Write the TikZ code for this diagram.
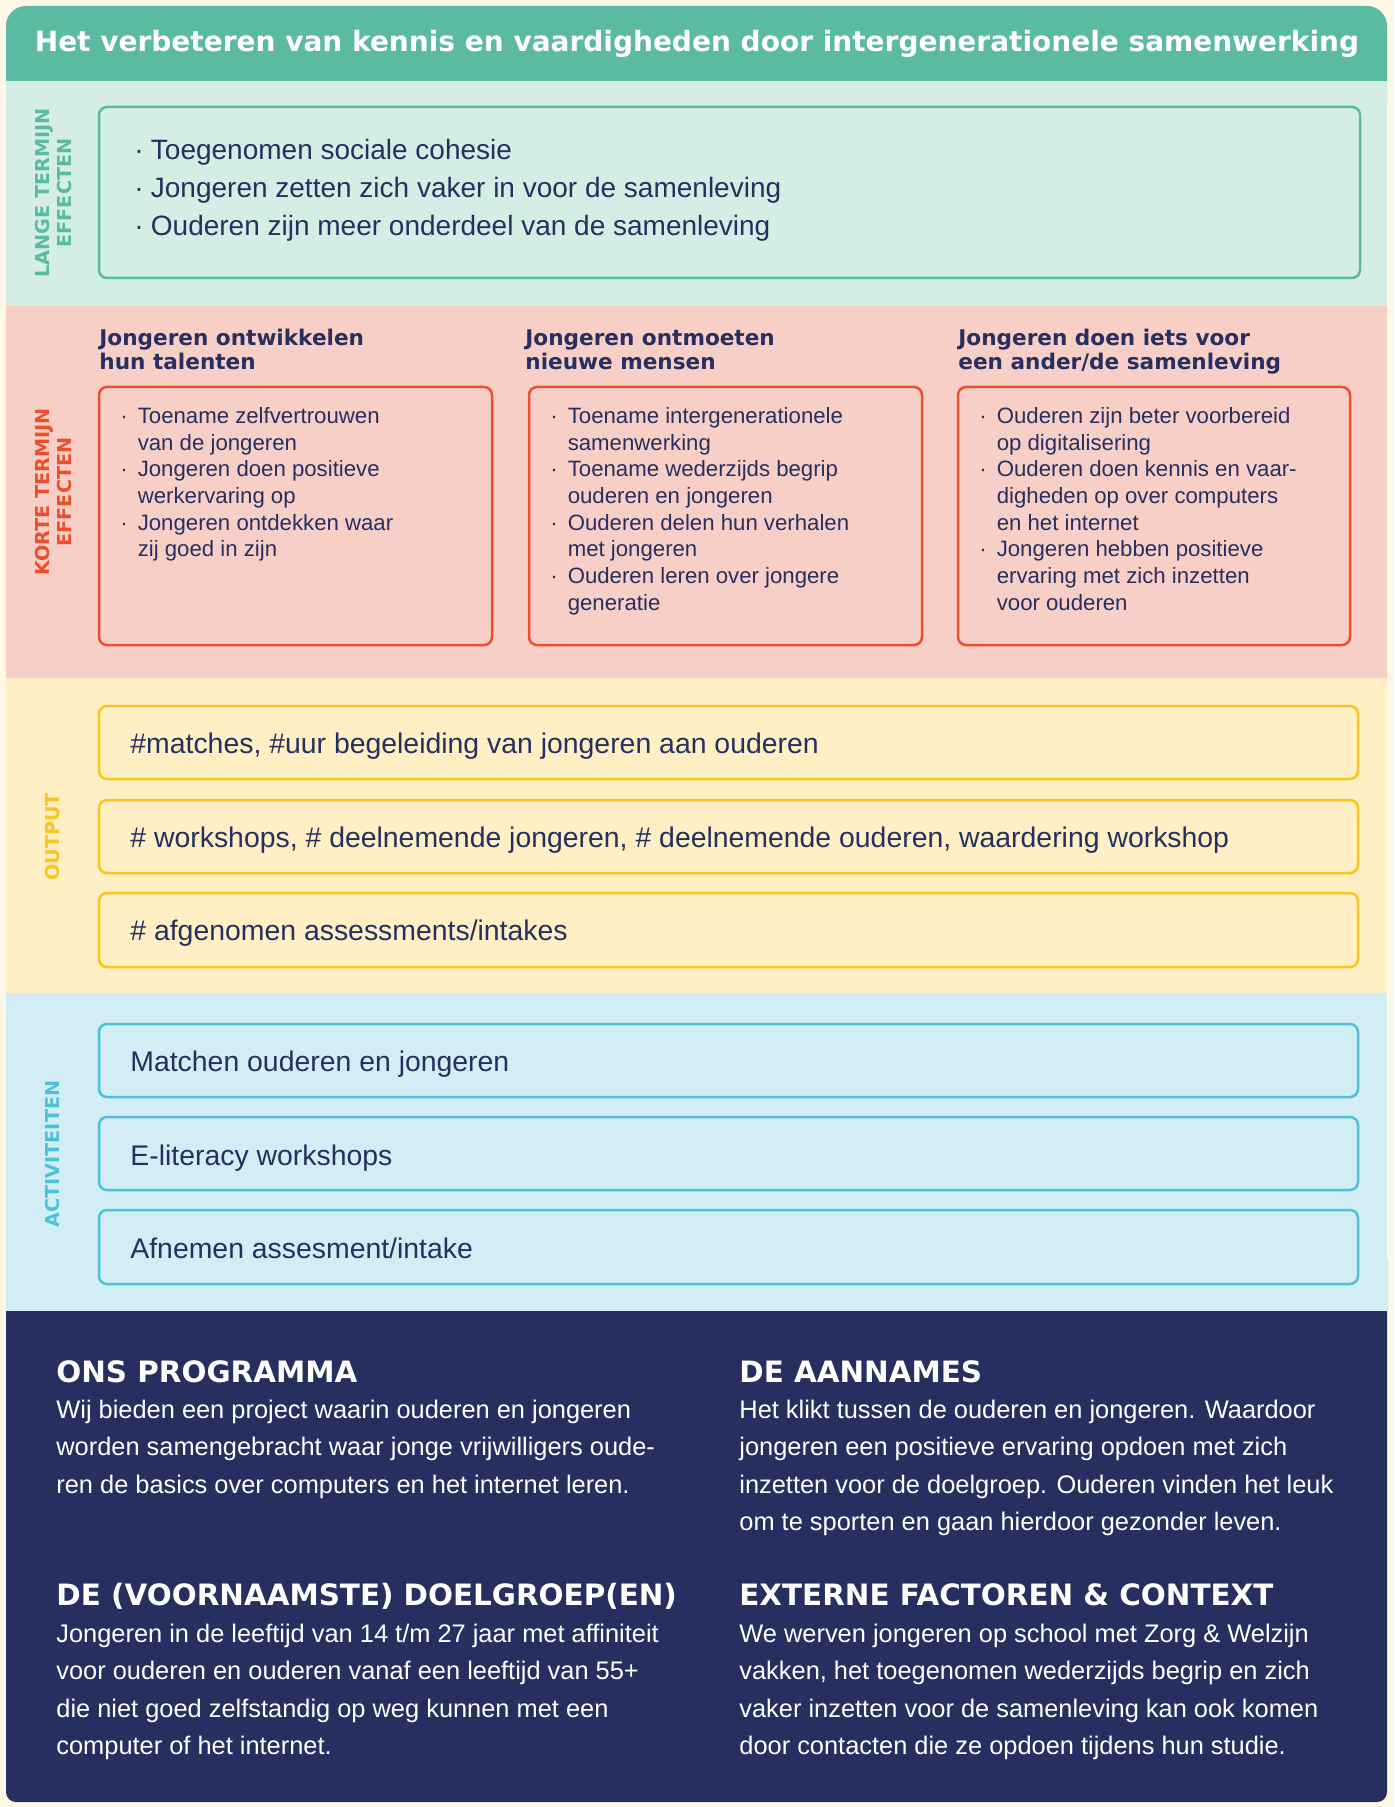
\documentclass[tikz,border=0pt]{standalone}
\usepackage{fontspec}
\setmainfont{Liberation Sans}
\newfontfamily\heavyfont{DejaVu Sans}
\definecolor{cream}{HTML}{FFF8E7}
\definecolor{langegreen}{HTML}{5BBAA2}
\definecolor{langebg}{HTML}{D4EEE6}
\definecolor{kortered}{HTML}{E9502B}
\definecolor{kortebg}{HTML}{F8CFC7}
\definecolor{outyellow}{HTML}{FBC41F}
\definecolor{outbg}{HTML}{FEF0C4}
\definecolor{actblue}{HTML}{4DC1DA}
\definecolor{actbg}{HTML}{D3EDF4}
\definecolor{navy}{HTML}{262F5F}
\definecolor{ink}{HTML}{272F60}

\begin{document}
\begin{tikzpicture}[x=0.5pt,y=-0.5pt,
    effbox/.style={line width=1.25pt,rounded corners=4pt},
    sidelabel/.style={rotate=90,align=center,inner sep=0pt,font=\heavyfont\bfseries\fontsize{9.6}{11}\selectfont},
    linetext/.style={anchor=base west,inner sep=0pt,text=ink,font=\fontsize{14.2}{17}\selectfont},
    listtext/.style={anchor=north west,inner sep=0pt,text=ink,font=\fontsize{11.1}{13.35}\selectfont},
    colhead/.style={anchor=north west,inner sep=0pt,text=ink,font=\heavyfont\bfseries\fontsize{10.8}{12}\selectfont},
    navyhead/.style={anchor=base west,inner sep=0pt,text=white,font=\heavyfont\bfseries\fontsize{14.7}{17}\selectfont},
    navytext/.style={anchor=north west,inner sep=0pt,text=white,font=\fontsize{12.7}{18.75}\selectfont}]
\fill[cream] (0,0) rectangle (1394,1807);
\useasboundingbox (0,0) rectangle (1394,1807);
% bands
\fill[langegreen,rounded corners=10pt] (6,6) rectangle (1387,120);
\fill[navy,rounded corners=5pt] (6,1250) rectangle (1387,1802);
\fill[langebg] (6,81) rectangle (1387,306);
\fill[kortebg] (6,306) rectangle (1387,678);
\fill[outbg] (6,678) rectangle (1387,993);
\fill[actbg] (6,993) rectangle (1387,1311);
\node[anchor=base,inner sep=0pt,text=white,font=\heavyfont\bfseries\fontsize{14}{16}\selectfont] (title) at (697,52) {Het verbeteren van kennis en vaardigheden door intergenerationele samenwerking};

% lange termijn
\node[sidelabel,text=langegreen] (langelabel) at (54,193) {LANGE TERMIJN\\EFFECTEN};
\draw[effbox,langegreen] (99,107) rectangle (1360,278);
\node[listtext,font=\fontsize{14}{19}\selectfont] (langelist) at (134,132.4) {\begin{tabular}{@{}l@{\hspace{3.6pt}}l@{}}
· & Toegenomen sociale cohesie\\
· & Jongeren zetten zich vaker in voor de samenleving\\
· & Ouderen zijn meer onderdeel van de samenleving
\end{tabular}};

% korte termijn
\node[sidelabel,text=kortered] (kortelabel) at (54,492) {KORTE TERMIJN\\EFFECTEN};
\node[colhead] (talenthead) at (99,328.2) {\begin{tabular}{@{}l@{}}Jongeren ontwikkelen\\hun talenten\end{tabular}};
\node[colhead] (mensenhead) at (525,328.2) {\begin{tabular}{@{}l@{}}Jongeren ontmoeten\\nieuwe mensen\end{tabular}};
\node[colhead] (ietshead) at (958,328.2) {\begin{tabular}{@{}l@{}}Jongeren doen iets voor\\een ander/de samenleving\end{tabular}};
\draw[effbox,kortered] (99,387) rectangle (492,645);
\draw[effbox,kortered] (529,387) rectangle (922,645);
\draw[effbox,kortered] (958,387) rectangle (1350,645);
\node[listtext] (talentlist) at (120,404.3) {\begin{tabular}{@{}l@{\hspace{5pt}}l@{}}
· & Toename zelfvertrouwen\\
  & van de jongeren\\
· & Jongeren doen positieve\\
  & werkervaring op\\
· & Jongeren ontdekken waar\\
  & zij goed in zijn
\end{tabular}};
\node[listtext] (mensenlist) at (550,404.3) {\begin{tabular}{@{}l@{\hspace{5pt}}l@{}}
· & Toename intergenerationele\\
  & samenwerking\\
· & Toename wederzijds begrip\\
  & ouderen en jongeren\\
· & Ouderen delen hun verhalen\\
  & met jongeren\\
· & Ouderen leren over jongere\\
  & generatie
\end{tabular}};
\node[listtext] (ietslist) at (979,404.3) {\begin{tabular}{@{}l@{\hspace{5pt}}l@{}}
· & Ouderen zijn beter voorbereid\\
  & op digitalisering\\
· & Ouderen doen kennis en vaar-\\
  & digheden op over computers\\
  & en het internet\\
· & Jongeren hebben positieve\\
  & ervaring met zich inzetten\\
  & voor ouderen
\end{tabular}};

% output
\node[sidelabel,text=outyellow] (outlabel) at (53,837) {OUTPUT};
\draw[effbox,outyellow] (99,706) rectangle (1358,779);
\draw[effbox,outyellow] (99,800) rectangle (1358,873);
\draw[effbox,outyellow] (99,893) rectangle (1358,967);
\node[linetext] (matchesout) at (130,753) {\#matches, \#uur begeleiding van jongeren aan ouderen};
\node[linetext] (workshopsout) at (130,847) {\# workshops, \# deelnemende jongeren, \# deelnemende ouderen, waardering workshop};
\node[linetext] (intakesout) at (130,940) {\# afgenomen assessments/intakes};

% activiteiten
\node[sidelabel,text=actblue] (actlabel) at (53,1154) {ACTIVITEITEN};
\draw[effbox,actblue] (99,1024) rectangle (1358,1097);
\draw[effbox,actblue] (99,1117) rectangle (1358,1190);
\draw[effbox,actblue] (99,1210) rectangle (1358,1284);
\node[linetext] (matchact) at (130,1071) {Matchen ouderen en jongeren};
\node[linetext] (literacyact) at (130,1165) {E-literacy workshops};
\node[linetext] (intakeact) at (130,1258) {Afnemen assesment/intake};

% programma, aannames, doelgroep, context
\node[navyhead] (programmahead) at (56,1382) {ONS PROGRAMMA};
\node[navytext] (programmatext) at (56,1391.75) {\begin{tabular}{@{}l@{}}
Wij bieden een project waarin ouderen en jongeren\\
worden samengebracht waar jonge vrijwilligers oude-\\
ren de basics over computers en het internet leren.
\end{tabular}};
\node[navyhead] (doelgroephead) at (56,1605) {DE (VOORNAAMSTE) DOELGROEP(EN)};
\node[navytext] (doelgroeptext) at (56,1615.75) {\begin{tabular}{@{}l@{}}
Jongeren in de leeftijd van 14 t/m 27 jaar met affiniteit\\
voor ouderen en ouderen vanaf een leeftijd van 55+\\
die niet goed zelfstandig op weg kunnen met een\\
computer of het internet.
\end{tabular}};
\node[navyhead] (aannameshead) at (739,1382) {DE AANNAMES};
\node[navytext] (aannamestext) at (739,1391.75) {\begin{tabular}{@{}l@{}}
Het klikt tussen de ouderen en jongeren. Waardoor\\
jongeren een positieve ervaring opdoen met zich\\
inzetten voor de doelgroep. Ouderen vinden het leuk\\
om te sporten en gaan hierdoor gezonder leven.
\end{tabular}};
\node[navyhead] (externhead) at (739,1605) {EXTERNE FACTOREN \& CONTEXT};
\node[navytext] (externtext) at (739,1615.75) {\begin{tabular}{@{}l@{}}
We werven jongeren op school met Zorg \& Welzijn\\
vakken, het toegenomen wederzijds begrip en zich\\
vaker inzetten voor de samenleving kan ook komen\\
door contacten die ze opdoen tijdens hun studie.
\end{tabular}};
\end{tikzpicture}
\end{document}
